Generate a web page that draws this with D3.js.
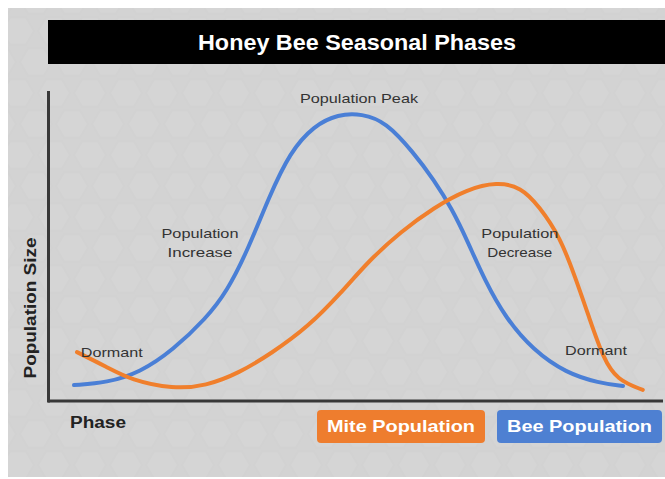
<!DOCTYPE html>
<html>
  <head>
    <meta charset='UTF-8'>
    <style>
    body {
      margin: 0;
      background: #fff;
    }
    text {
      font-family: 'Liberation Sans', Arial, sans-serif;
    }
    </style>
  </head>
  <body>
  <script src='https://cdn.jsdelivr.net/npm/d3@7/dist/d3.min.js'></script>
  <script>

    // phase position (0-100) and relative population size (0-100)
    var beePhase = [4, 9.5, 15, 20.5, 26, 29.5, 33, 36.5, 40, 44, 48, 52, 56, 60.5, 64, 67, 69.5, 72.5, 76, 80.5, 86, 91.5, 95.5];
    var beeSize  = [5.3, 6.1, 9.5, 17, 27.5, 36.5, 50.5, 68, 83, 91.8, 95.6, 95.8, 93, 83, 73.7, 64, 53.7, 40, 27.5, 17, 9.3, 6, 5];

    var mitePhase = [4.5, 9.5, 13.5, 20.5, 26, 31.5, 37, 43, 48.5, 53, 58.5, 64, 69.5, 74.5, 78.5, 81.5, 85, 87.5, 90, 92.2, 94.5, 98.8];
    var miteSize  = [16.3, 11.3, 7, 4, 5, 9.3, 16, 24.7, 36, 46.5, 56.5, 64.5, 70.6, 73, 71.3, 65, 54.7, 41.5, 27, 14.3, 7, 3.7];

    var noteText  = [['Population Peak'], ['Population', 'Increase'], ['Population', 'Decrease'], ['Dormant'], ['Dormant']];
    var notePhase = [51.5, 25, 78.3, 10.3, 91];
    var noteSize  = [99.5, 54.5, 54.5, 14.7, 15.3];

    var legendNames = ['Mite Population', 'Bee Population'];
    var legendColors = ['#ee7d2e', '#4e80d2'];

    var W = 665, H = 479;

    var svg = d3.select('body')
      .append('svg')
      .attr('width', W)
      .attr('height', H);

    // honeycomb texture
    var defs = svg.append('defs');
    var hw = 36, hh = 31;
    var pat = defs.append('pattern')
      .attr('id', 'hex')
      .attr('patternUnits', 'userSpaceOnUse')
      .attr('width', hw)
      .attr('height', hh * 2);
    var hex = function(cx, cy, r) {
      return d3.range(6).map(function(i) {
        var a = Math.PI / 3 * i;
        return [cx + r * Math.cos(a), cy + r * Math.sin(a)];
      });
    };
    [[0, 0], [hw, 0], [hw / 2, hh], [0, hh * 2], [hw, hh * 2]].forEach(function(c) {
      pat.append('polygon')
        .attr('points', hex(c[0], c[1], 16).join(' '))
        .attr('fill', '#d9d9d9')
        .attr('stroke', '#d0d0d0')
        .attr('stroke-width', 2);
    });

    svg.append('rect')
      .attr('x', 8).attr('y', 8)
      .attr('width', W - 8).attr('height', H - 10)
      .attr('fill', '#d3d3d3');
    svg.append('rect')
      .attr('x', 8).attr('y', 8)
      .attr('width', W - 8).attr('height', H - 10)
      .attr('fill', 'url(#hex)')
      .attr('opacity', 0.35);

    // title bar
    svg.append('rect')
      .attr('x', 48).attr('y', 20)
      .attr('width', W - 48).attr('height', 44)
      .attr('fill', '#000');
    svg.append('text')
      .attr('x', 357).attr('y', 50)
      .attr('text-anchor', 'middle')
      .attr('fill', '#fff')
      .attr('font-weight', 'bold')
      .attr('font-size', 22)
      .attr('textLength', 318)
      .attr('lengthAdjust', 'spacingAndGlyphs')
      .text('Honey Bee Seasonal Phases');

    var x = d3.scaleLinear().domain([0, 100]).range([50, 650]);
    var y = d3.scaleLinear().domain([0, 100]).range([401, 101]);

    // axes (no ticks, just the two lines)
    svg.append('g')
      .attr('transform', 'translate(0,' + y(0) + ')')
      .call(d3.axisBottom(x).tickValues([]).tickSizeOuter(0))
      .call(function(g) {
        g.select('.domain')
          .attr('d', 'M' + (x(0) - 2) + ',0H663')
          .attr('stroke', '#383838')
          .attr('stroke-width', 3);
      });
    svg.append('g')
      .attr('transform', 'translate(' + (x(0) - 1.5) + ',0)')
      .call(d3.axisLeft(y).tickValues([]).tickSizeOuter(0))
      .call(function(g) {
        g.select('.domain')
          .attr('d', 'M0,91V' + (y(0) + 1.5))
          .attr('stroke', '#383838')
          .attr('stroke-width', 3);
      });

    svg.append('text')
      .attr('transform', 'translate(36,' + 308 + ') rotate(-90)')
      .attr('text-anchor', 'middle')
      .attr('font-weight', 'bold')
      .attr('font-size', 16)
      .attr('fill', '#222')
      .attr('textLength', 141)
      .attr('lengthAdjust', 'spacingAndGlyphs')
      .text('Population Size');

    svg.append('text')
      .attr('x', 70).attr('y', 428)
      .attr('font-weight', 'bold')
      .attr('font-size', 16)
      .attr('fill', '#222')
      .attr('textLength', 56)
      .attr('lengthAdjust', 'spacingAndGlyphs')
      .text('Phase');

    var line = d3.line()
      .x(function(d) { return x(d[0]); })
      .y(function(d) { return y(d[1]); })
      .curve(d3.curveBasis);

    var bee = beePhase.map(function(p, i) { return [p, beeSize[i]]; });
    var mite = mitePhase.map(function(p, i) { return [p, miteSize[i]]; });

    svg.append('path')
      .datum(bee)
      .attr('d', line)
      .attr('fill', 'none')
      .attr('stroke', '#4a7fd6')
      .attr('stroke-width', 4)
      .attr('stroke-linecap', 'round');

    svg.append('path')
      .datum(mite)
      .attr('d', line)
      .attr('fill', 'none')
      .attr('stroke', '#f07f2c')
      .attr('stroke-width', 4)
      .attr('stroke-linecap', 'round');

    // annotations
    noteText.forEach(function(lines, i) {
      var t = svg.append('text')
        .attr('text-anchor', 'middle')
        .attr('font-size', 13)
        .attr('fill', '#333');
      lines.forEach(function(s, j) {
        t.append('tspan')
          .attr('x', x(notePhase[i]))
          .attr('y', y(noteSize[i]) + j * 19.5)
          .attr('textLength', s === 'Population Peak' ? 118 : (s === 'Dormant' ? 62 : (s === 'Population' ? 77 : 65)))
          .attr('lengthAdjust', 'spacingAndGlyphs')
          .text(s);
      });
    });

    // legend
    var lx = [317, 497], lw = [168, 165], lt = [148, 145];
    legendNames.forEach(function(name, i) {
      svg.append('rect')
        .attr('x', lx[i]).attr('y', 410)
        .attr('width', lw[i]).attr('height', 33)
        .attr('rx', 4)
        .attr('fill', legendColors[i]);
      svg.append('text')
        .attr('x', lx[i] + lw[i] / 2).attr('y', 432)
        .attr('text-anchor', 'middle')
        .attr('fill', '#fff')
        .attr('font-weight', 'bold')
        .attr('font-size', 17)
        .attr('textLength', lt[i])
        .attr('lengthAdjust', 'spacingAndGlyphs')
        .text(name);
    });

  </script>
  </body>
</html>
